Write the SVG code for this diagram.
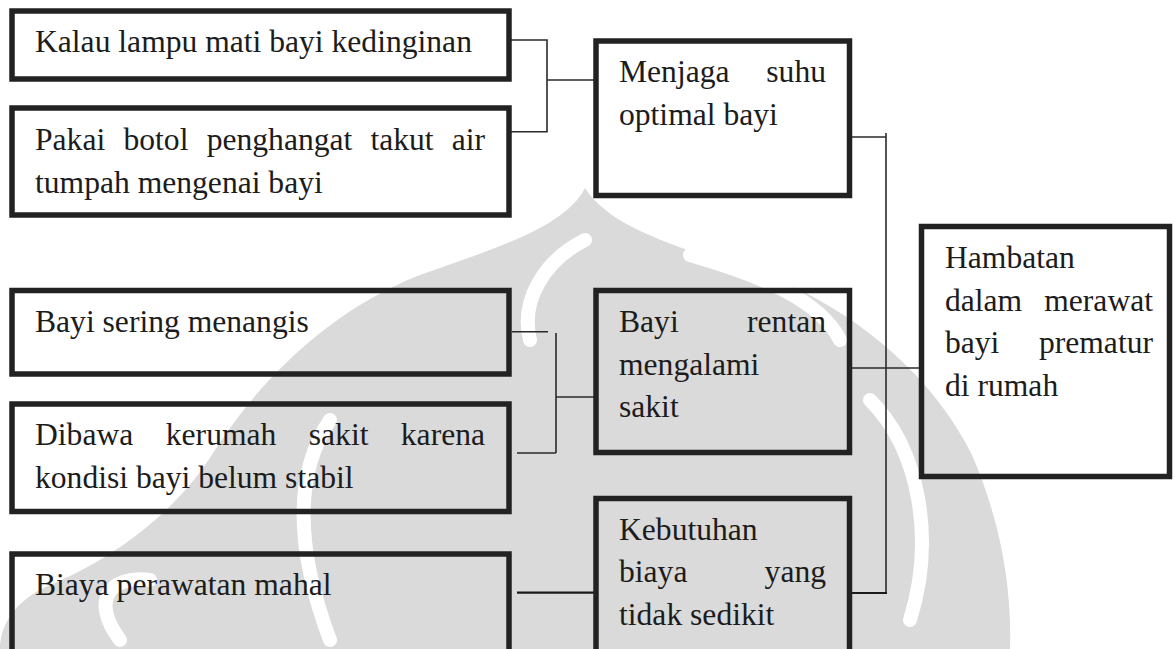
<svg xmlns="http://www.w3.org/2000/svg" width="1175" height="649" viewBox="0 0 1175 649">
<style>
.box{fill:none;stroke:#222;stroke-width:5.5}
.ln{fill:none;stroke:#2a2a2a;stroke-width:1.6}
.lnb{fill:none;stroke:#1a1a1a;stroke-width:2.2}
text{font-family:"Liberation Serif","Times New Roman",serif;font-size:31.6px;fill:#1c1c1c}
.e{text-anchor:end}
.wm{fill:#dadada}
.wmw{fill:none;stroke:#ffffff;stroke-width:14;stroke-linecap:round}
</style>
<rect width="1175" height="649" fill="#ffffff"/>
<g id="watermark">
<path class="wm" d="M585,188 C565,228 490,250 420,275 C330,310 260,380 215,450 C175,515 110,560 50,585 C15,600 0,625 0,649 L1010,649 C1012,585 1000,520 972,455 C940,390 880,330 800,290 C720,255 618,240 585,188 Z"/>
<path class="wmw" d="M530,340 C520,300 545,260 585,240"/>
<path class="wmw" d="M690,255 C760,275 820,300 840,340"/>
<path class="wmw" d="M870,400 C920,450 935,540 910,620"/>
<path class="wmw" d="M330,420 C290,480 300,560 330,640"/>
<path class="wmw" d="M120,640 C90,600 110,575 150,580"/>
</g>
<g id="connectors">
<polyline class="ln" points="510,40 547,40 547,131.7 510,131.7"/>
<line class="ln" x1="547" y1="80" x2="594" y2="80"/>
<line class="ln" x1="512" y1="331.7" x2="548" y2="331.7"/>
<line class="ln" x1="556" y1="333" x2="556" y2="453"/>
<line class="ln" x1="517" y1="453" x2="556" y2="453"/>
<line class="ln" x1="556" y1="397" x2="595" y2="397"/>
<line class="lnb" x1="517" y1="592.7" x2="595" y2="592.7"/>
<line class="ln" x1="852" y1="137" x2="886" y2="137"/>
<line class="ln" x1="886" y1="133" x2="886" y2="593"/>
<line class="lnb" x1="852" y1="593" x2="887" y2="593"/>
<line class="ln" x1="852" y1="368" x2="919" y2="368"/>
</g>
<g id="n1"><rect class="box" x="12" y="11" width="497" height="68"/><text x="35" y="52">Kalau lampu mati bayi kedinginan</text></g>
<g id="n2"><rect class="box" x="12" y="108" width="497" height="107"/>
<text y="150"><tspan x="35">Pakai</tspan><tspan x="123.5">botol</tspan><tspan x="206.7">penghangat</tspan><tspan x="370.4">takut</tspan></text><text class="e" x="485" y="150">air</text>
<text x="35" y="193">tumpah mengenai bayi</text></g>
<g id="n3"><rect class="box" x="596" y="41" width="253.5" height="154.5"/>
<text x="619" y="82">Menjaga</text><text class="e" x="826" y="82">suhu</text>
<text x="619" y="125">optimal bayi</text></g>
<g id="n4"><rect class="box" x="12" y="290.5" width="497" height="83.5"/><text x="35" y="332">Bayi sering menangis</text></g>
<g id="n5"><rect class="box" x="12" y="404" width="497" height="107.5"/>
<text y="445"><tspan x="35">Dibawa</tspan><tspan x="165.8">kerumah</tspan><tspan x="308.8">sakit</tspan></text><text class="e" x="485" y="445">karena</text>
<text x="35" y="487.5">kondisi bayi belum stabil</text></g>
<g id="n6"><rect class="box" x="12" y="554" width="497" height="160"/><text x="35" y="595">Biaya perawatan mahal</text></g>
<g id="n7"><rect class="box" x="596" y="290.5" width="253.5" height="162"/>
<text x="619" y="332">Bayi</text><text class="e" x="826" y="332">rentan</text>
<text x="619" y="374.5">mengalami</text>
<text x="619" y="417">sakit</text></g>
<g id="n8"><rect class="box" x="596" y="498.5" width="253.5" height="200"/>
<text x="619" y="539.5">Kebutuhan</text>
<text x="619" y="582">biaya</text><text class="e" x="826" y="582">yang</text>
<text x="619" y="624.5">tidak sedikit</text></g>
<g id="n9"><rect class="box" x="921.5" y="226.5" width="248" height="250"/>
<text x="945" y="268">Hambatan</text>
<text x="945" y="310.5">dalam</text><text class="e" x="1153" y="310.5">merawat</text>
<text x="945" y="353">bayi</text><text class="e" x="1153" y="353">prematur</text>
<text x="945" y="395.5">di rumah</text></g>
</svg>
